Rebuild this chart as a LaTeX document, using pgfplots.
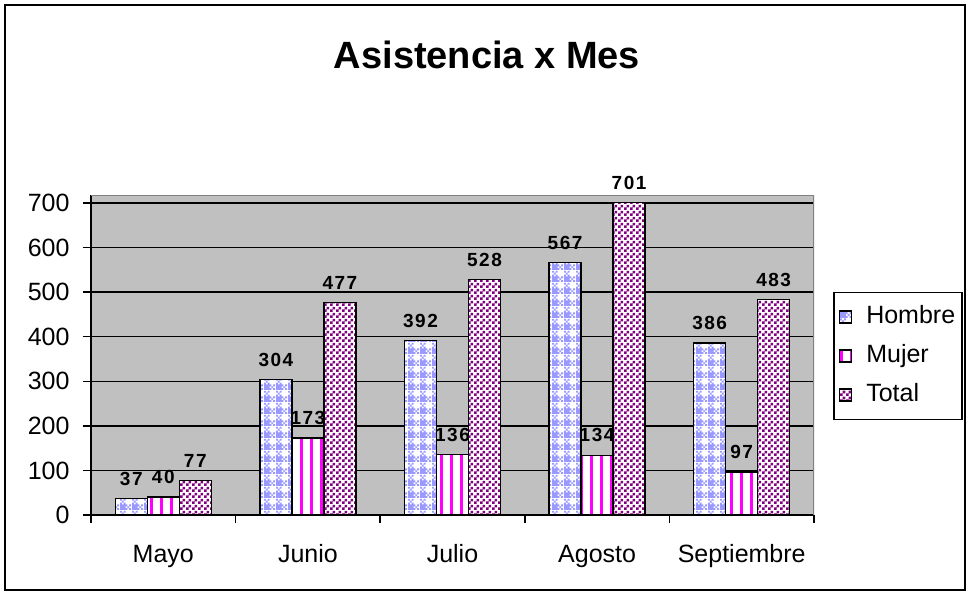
\documentclass[border=0pt]{standalone}
\usepackage{fontspec}
\setmainfont{Liberation Sans}
\newfontfamily\lblfont[LetterSpace=8]{Liberation Sans}
\usepackage{pgfplots}
\pgfplotsset{compat=1.18}
\usetikzlibrary{patterns}
\definecolor{plotgray}{RGB}{192,192,192}
\definecolor{lav}{RGB}{153,153,255}
\definecolor{mag}{RGB}{255,0,255}
\definecolor{purp}{RGB}{128,0,128}
\pgfdeclarepatternformonly{mujerstripes}{\pgfqpoint{0pt}{-1pt}}{\pgfqpoint{10pt}{11pt}}{\pgfqpoint{10pt}{10pt}}{%
  \pgfpathrectangle{\pgfqpoint{0pt}{-1pt}}{\pgfqpoint{3.3pt}{12pt}}\pgfusepath{fill}}
\pgfdeclarepatternformonly{totalcheck}{\pgfqpoint{0pt}{0pt}}{\pgfqpoint{6pt}{6pt}}{\pgfqpoint{6pt}{6pt}}{%
  \pgfpathrectangle{\pgfqpoint{0pt}{0pt}}{\pgfqpoint{3pt}{3pt}}%
  \pgfpathrectangle{\pgfqpoint{3pt}{3pt}}{\pgfqpoint{3pt}{3pt}}\pgfusepath{fill}}
\pgfdeclarepatternformonly{hombrepat}{\pgfqpoint{0pt}{0pt}}{\pgfqpoint{12pt}{12pt}}{\pgfqpoint{12pt}{12pt}}{%
  \pgfpathrectangle{\pgfqpoint{0pt}{0pt}}{\pgfqpoint{6pt}{6pt}}%
  \pgfpathrectangle{\pgfqpoint{6pt}{0pt}}{\pgfqpoint{2pt}{2pt}}%
  \pgfpathrectangle{\pgfqpoint{10pt}{0pt}}{\pgfqpoint{2pt}{2pt}}%
  \pgfpathrectangle{\pgfqpoint{8pt}{2pt}}{\pgfqpoint{2pt}{2pt}}%
  \pgfpathrectangle{\pgfqpoint{6pt}{4pt}}{\pgfqpoint{2pt}{2pt}}%
  \pgfpathrectangle{\pgfqpoint{10pt}{4pt}}{\pgfqpoint{2pt}{2pt}}%
  \pgfpathrectangle{\pgfqpoint{0pt}{6pt}}{\pgfqpoint{2pt}{2pt}}%
  \pgfpathrectangle{\pgfqpoint{4pt}{6pt}}{\pgfqpoint{2pt}{2pt}}%
  \pgfpathrectangle{\pgfqpoint{2pt}{8pt}}{\pgfqpoint{2pt}{2pt}}%
  \pgfpathrectangle{\pgfqpoint{0pt}{10pt}}{\pgfqpoint{2pt}{2pt}}%
  \pgfpathrectangle{\pgfqpoint{4pt}{10pt}}{\pgfqpoint{2pt}{2pt}}%
  \pgfusepath{fill}}
\begin{document}
\begin{tikzpicture}[x=1pt,y=1pt]
\path (0,0) rectangle (971,-594);
\draw[line width=2pt] (5,-5) rectangle (965,-590);
\node[font=\bfseries\fontsize{38}{38}\selectfont] at (487,-55) {Asistencia x Mes};
\begin{axis}[
  at={(91pt,-515pt)}, anchor=south west,
  scale only axis, width=723pt, height=320pt,
  xmin=-0.5, xmax=4.5, ymin=0, ymax=718,
  ybar=0pt, bar width=32pt,
  axis background/.style={fill=plotgray},
  axis x line*=bottom, axis y line*=left,
  axis line style={line width=1.5pt},
  tick align=outside, major tick length=8pt,
  tick style={black, line width=1.5pt},
  ytick={0,100,...,700},
  yticklabel style={xshift=-10pt},
  xtick={-0.5,0.5,1.5,2.5,3.5,4.5}, xticklabels={},
  extra x ticks={0,1,2,3,4},
  extra x tick labels={Mayo,Junio,Julio,Agosto,Septiembre},
  extra x tick style={major tick length=0pt, xticklabel style={anchor=base, yshift=-47pt}},
  ymajorgrids, grid style={black, line width=1.5pt},
  /pgf/number format/assume math mode=true,
  ticklabel style={font=\fontsize{25}{25}\selectfont},
  nodes near coords,
  every node near coord/.append style={font=\lblfont\bfseries\fontsize{19}{19}\selectfont, yshift=9pt, black},
  legend style={at={(1.0263,0.697)}, anchor=north west, draw=black, line width=1.5pt,
    font=\fontsize{25}{25}\selectfont, row sep=12pt, inner xsep=5pt, inner ysep=11pt,
    nodes={text height=18pt, text depth=5pt, inner sep=2pt},
    /tikz/every odd column/.append style={column sep=12pt}},
  legend cell align=left,
  legend image code/.code={\draw[#1, line width=1.5pt] (0pt,-6pt) rectangle (12pt,6pt);},
]
\addplot[draw=black, line width=1.5pt, fill=white, postaction={pattern=hombrepat, pattern color=lav}] coordinates {(0,37) (1,304) (2,392) (3,567) (4,386)};
\addplot[draw=black, line width=1.5pt, fill=white, postaction={pattern=mujerstripes, pattern color=mag}] coordinates {(0,40) (1,173) (2,136) (3,134) (4,97)};
\addplot[draw=black, line width=1.5pt, fill=white, postaction={pattern=totalcheck, pattern color=purp}] coordinates {(0,77) (1,477) (2,528) (3,701) (4,483)};
\legend{Hombre,Mujer,Total}
\draw[gray, line width=1.5pt] (rel axis cs:0,1) -- (rel axis cs:1,1) -- (rel axis cs:1,0);
\end{axis}
\end{tikzpicture}
\end{document}
